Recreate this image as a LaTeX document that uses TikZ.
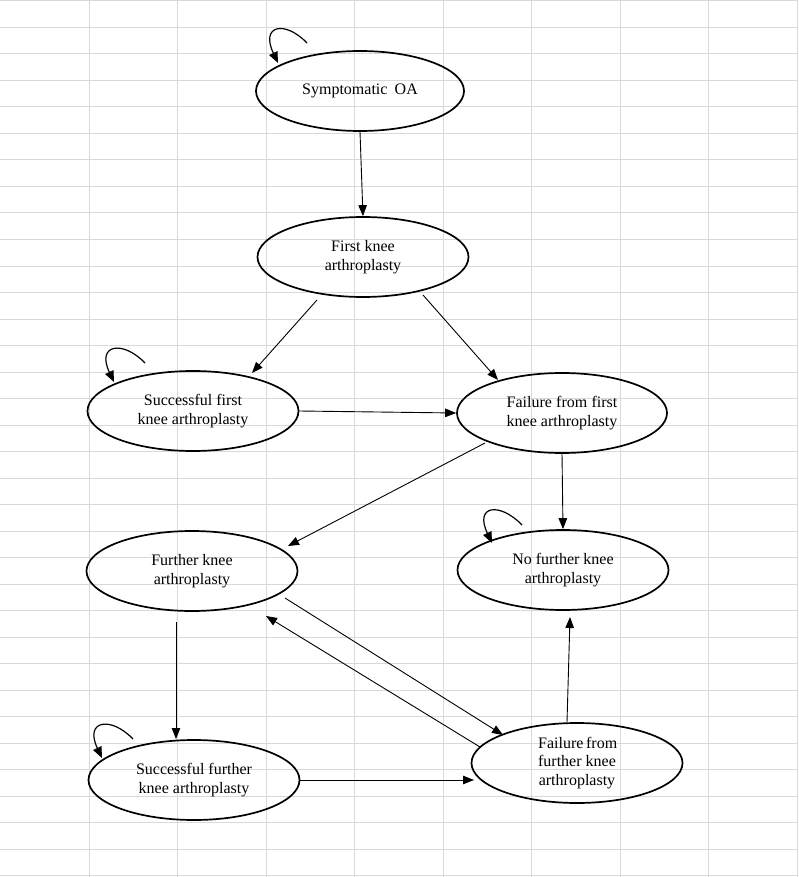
\documentclass[tikz,border=0pt]{standalone}
\usepackage{fontspec}
\setmainfont{Liberation Serif}
\usetikzlibrary{shapes.geometric,arrows.meta,calc}
\newcommand\jtwo[2]{\setbox0=\hbox{#2}\makebox[\wd0][s]{#1}\\#2}
\newcommand\jthree[3]{\setbox0=\hbox{#2}\makebox[\wd0][s]{#1}\\#2\\#3}
\tikzset{
  st/.style={ellipse, draw, line width=1.7pt, inner sep=0pt,
    minimum width=211pt, minimum height=80pt, align=center,
    font=\fontsize{16}{18.5}\selectfont},
  link/.style={line width=0.9pt, -{Triangle[length=11pt,width=8.5pt]}},
  loopy/.style={line width=1.2pt, -{Triangle[length=11pt,width=9pt]}},
  gridline/.style={draw=black!15, line width=1pt}
}
\begin{document}
\begin{tikzpicture}[x=1pt,y=-1pt]
\useasboundingbox (0,0) rectangle (798,877);
\fill[white] (0,0) rectangle (798,877);
% spreadsheet grid
\foreach \k in {0,...,8} \draw[gridline] ({89+88.5*\k},0) -- ({89+88.5*\k},877);
\foreach \k in {0,...,33} \draw[gridline] (0,{1+26.5*\k}) -- (798,{1+26.5*\k});

% states
\node[st, minimum width=208pt] (oa)  at (360,91)  {Symptomatic\hspace{0.45em}OA};
\node[st] (fka) at (363,257) {First knee\\arthroplasty};
\node[st] (sfa) at (193,411) {Successful first\\knee arthroplasty};
\node[st, minimum width=210pt] (ffa) at (562,413) {\jtwo{Failure from first}{knee arthroplasty}};
\node[st] (fur) at (192,571) {Further knee\\arthroplasty};
\node[st] (nof) at (563,570) {No further knee\\arthroplasty};
\node[st] (sfu) at (194,780) {Successful further\\knee arthroplasty};
\node[st] (fff) at (577,763) {\jthree{Failure from}{further knee}{arthroplasty}};

% transitions
\draw[link] (oa.south) -- (fka.north);
\draw[link] ($(fka)+(-46,43)$) -- ($(sfa)+(59,-38)$);
\draw[link] ($(fka)+(60,38)$) -- ($(ffa)+(-64,-33)$);
\draw[link] (sfa.east) -- (ffa.west);
\draw[link] ($(ffa)+(-77,30)$) -- ($(fur)+(96,-25)$);
\draw[link] (ffa.south) -- (nof.north);
\draw[link] ($(fur)+(93,27)$) -- ($(fff)+(-74,-28)$);
\draw[link] ($(fff)+(-97,-16)$) -- ($(fur)+(74,45)$);
\draw[link] ($(fur)+(-16,51)$) -- ($(sfu)+(-18,-41)$);
\draw[link] (sfu.east) -- ($(fff)+(-103,17)$);
\draw[link] ($(fff)+(-10,-41)$) -- ($(nof)+(7,47)$);

% self loops
\draw[loopy] ($(oa)+(-53,-48)$) .. controls ($(oa)+(-75,-71)$) and ($(oa)+(-100,-66)$) .. ($(oa)+(-82,-28)$);
\draw[loopy] ($(sfa)+(-48,-48)$) .. controls ($(sfa)+(-70,-71)$) and ($(sfa)+(-97,-67)$) .. ($(sfa)+(-79,-29)$);
\draw[loopy] ($(nof)+(-41,-45)$) .. controls ($(nof)+(-63,-68)$) and ($(nof)+(-89,-65)$) .. ($(nof)+(-71,-27)$);
\draw[loopy] ($(sfu)+(-61,-41)$) .. controls ($(sfu)+(-83,-64)$) and ($(sfu)+(-110,-60)$) .. ($(sfu)+(-92,-22)$);
\end{tikzpicture}
\end{document}
